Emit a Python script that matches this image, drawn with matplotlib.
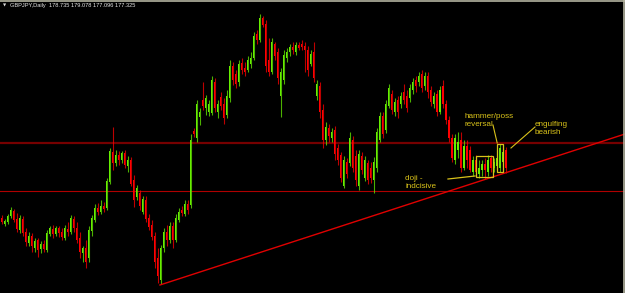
import numpy as np
import matplotlib
matplotlib.use("Agg")
import matplotlib.pyplot as plt
from matplotlib.lines import Line2D
from matplotlib.patches import Rectangle

# GBPJPY daily candles
opens = [172.3, 171.7, 171.9, 172.5, 173.0, 172.2, 171.1, 172.2, 170.9, 169.8,
         170.5, 169.3, 170.1, 169.2, 169.7, 169.1, 170.7, 171.2, 170.7, 171.3,
         170.9, 170.3, 171.2, 170.9, 172.2, 171.3, 170.3, 168.8, 169.3, 168.3,
         171.0, 172.1, 173.3, 172.9, 173.5, 173.3, 175.9, 178.9, 177.8, 178.6,
         178.1, 178.8, 177.5, 178.1, 176.1, 174.4, 174.8, 172.9, 174.1, 172.3,
         171.6, 170.5, 168.3, 166.1, 169.3, 170.9, 170.1, 171.5, 170.1, 172.1,
         173.1, 172.7, 173.7, 173.6, 181.0, 180.3, 182.4, 184.1, 183.3, 182.9,
         182.8, 185.9, 182.9, 184.4, 183.7, 182.6, 184.3, 187.5, 186.7, 185.9,
         187.8, 187.3, 187.1, 187.7, 188.3, 190.7, 190.1, 192.3, 191.7, 188.1,
         186.9, 189.7, 188.9, 184.5, 186.1, 188.3, 188.9, 189.4, 188.9, 189.6,
         189.7, 189.5, 189.1, 187.7, 188.9, 184.5, 185.5, 183.1, 180.1, 181.3,
         180.3, 181.1, 179.3, 178.6, 175.5, 177.9, 177.8, 180.1, 178.5, 175.5,
         178.5, 176.3, 177.8, 177.3, 176.1, 177.3, 180.1, 182.5, 181.1, 183.5,
         184.7, 182.9, 184.1, 183.7, 184.9, 184.5, 184.3, 185.1, 186.1, 185.9,
         186.7, 185.5, 186.5, 185.1, 183.7, 184.7, 182.9, 185.5, 183.7, 182.1,
         180.3, 178.1, 179.1, 180.1, 177.3, 179.5, 179.1, 176.9, 178.1, 176.7,
         177.1, 177.7, 176.9, 178.3, 177.3, 177.5, 177.3, 177.9, 179.1]
highs = [172.6, 172.2, 172.7, 173.4, 173.2, 172.8, 172.6, 172.5, 171.3, 170.9,
         170.8, 170.3, 170.3, 170.0, 170.1, 171.1, 171.5, 171.6, 171.5, 171.5,
         171.3, 171.6, 171.9, 172.6, 172.5, 171.9, 170.9, 169.5, 170.1, 171.5,
         172.6, 173.7, 173.8, 174.1, 173.9, 176.3, 179.3, 181.4, 179.1, 179.0,
         179.0, 179.1, 178.5, 178.4, 176.6, 175.6, 175.1, 174.5, 174.5, 172.7,
         172.1, 170.9, 169.3, 169.6, 171.3, 171.6, 171.9, 171.9, 172.7, 173.3,
         173.5, 174.1, 174.1, 180.7, 181.3, 184.1, 183.3, 185.9, 184.6, 184.1,
         186.5, 186.3, 184.1, 184.9, 184.3, 185.1, 188.1, 187.9, 187.1, 188.1,
         188.3, 187.9, 188.5, 188.9, 190.9, 191.1, 192.7, 192.5, 192.1, 190.3,
         190.3, 189.9, 189.3, 187.3, 189.1, 189.3, 189.7, 189.9, 189.9, 189.9,
         190.1, 189.9, 189.5, 189.1, 189.9, 186.1, 185.9, 183.7, 181.9, 181.7,
         181.3, 181.5, 179.7, 178.9, 178.5, 178.3, 180.9, 180.5, 179.1, 179.1,
         178.9, 178.5, 178.1, 177.9, 178.4, 181.3, 182.9, 182.9, 184.1, 185.7,
         185.1, 184.3, 184.5, 184.9, 185.7, 185.1, 185.7, 186.3, 186.5, 186.9,
         187.1, 186.9, 186.9, 185.5, 184.9, 185.1, 185.5, 186.1, 184.1, 182.5,
         180.7, 180.7, 180.9, 180.9, 180.1, 180.1, 179.5, 178.5, 178.6, 178.1,
         178.1, 178.3, 178.6, 178.6, 178.3, 179.1, 179.7, 179.3, 179.4]
lows = [171.7, 171.5, 171.7, 172.3, 171.9, 170.9, 170.8, 170.5, 169.5, 169.5,
        168.9, 168.9, 168.4, 168.8, 168.9, 168.9, 170.5, 170.3, 170.5, 170.4,
        170.1, 170.1, 170.5, 170.7, 170.9, 169.8, 168.3, 167.9, 167.3, 167.9,
        170.5, 171.9, 172.6, 172.7, 172.9, 173.1, 175.7, 177.1, 177.5, 177.6,
        177.8, 177.3, 176.9, 175.5, 173.4, 174.1, 173.1, 172.7, 171.9, 171.1,
        170.1, 167.3, 165.8, 165.7, 168.9, 169.5, 169.8, 169.3, 169.9, 171.9,
        172.5, 172.5, 172.7, 173.3, 180.4, 179.9, 181.6, 183.1, 182.6, 182.5,
        182.6, 182.9, 182.3, 183.1, 181.7, 182.3, 183.9, 185.6, 185.3, 185.5,
        186.7, 186.5, 186.9, 187.3, 188.1, 189.7, 189.9, 191.4, 186.9, 186.5,
        186.7, 188.1, 185.7, 182.4, 185.7, 187.9, 188.5, 188.7, 188.6, 189.1,
        189.1, 186.9, 186.5, 187.5, 185.9, 184.1, 182.3, 179.3, 179.6, 179.9,
        179.9, 178.1, 177.6, 175.9, 175.3, 176.3, 177.5, 176.9, 175.5, 175.1,
        176.7, 176.0, 175.7, 175.8, 174.8, 176.9, 179.9, 180.3, 180.8, 183.3,
        182.7, 182.5, 182.3, 183.3, 183.7, 182.9, 183.9, 184.7, 184.9, 185.5,
        184.9, 185.1, 184.3, 183.5, 183.3, 182.5, 182.7, 183.3, 181.7, 179.9,
        177.9, 177.7, 178.3, 176.9, 177.1, 177.3, 176.9, 176.5, 176.5, 176.3,
        176.5, 176.2, 176.5, 176.9, 176.9, 177.1, 176.9, 177.5, 176.8]
closes = [171.9, 172.0, 172.5, 173.1, 172.1, 171.2, 172.3, 170.8, 169.9, 170.5,
          169.5, 170.0, 169.1, 169.7, 169.2, 170.8, 171.3, 170.7, 171.3, 170.8,
          170.4, 171.3, 170.9, 172.3, 171.3, 170.1, 168.9, 169.3, 167.9, 171.1,
          172.3, 173.3, 172.9, 173.5, 173.2, 176.0, 179.0, 177.8, 178.6, 178.1,
          178.8, 177.6, 178.1, 175.7, 174.1, 175.3, 173.5, 174.2, 172.2, 171.4,
          170.4, 167.9, 166.5, 169.3, 170.9, 170.1, 171.5, 170.1, 172.3, 172.9,
          172.8, 173.7, 173.1, 180.1, 180.7, 183.7, 182.9, 183.5, 184.3, 183.7,
          186.1, 183.3, 183.7, 183.5, 182.3, 184.5, 187.5, 186.1, 185.7, 187.7,
          187.1, 186.9, 188.1, 188.3, 190.5, 190.1, 192.3, 191.6, 187.5, 186.9,
          189.9, 188.5, 186.3, 186.9, 188.6, 188.9, 189.4, 189.1, 189.6, 189.3,
          189.4, 189.1, 187.1, 188.7, 186.3, 185.7, 182.9, 180.1, 181.4, 180.5,
          180.9, 178.7, 178.1, 176.3, 178.1, 176.7, 180.3, 177.3, 176.1, 178.7,
          177.1, 178.1, 176.1, 176.3, 177.9, 180.9, 182.5, 180.7, 183.7, 185.3,
          183.1, 183.9, 182.9, 184.5, 184.1, 183.3, 185.3, 185.9, 185.5, 186.5,
          185.3, 186.5, 184.9, 183.9, 184.5, 182.9, 185.1, 183.7, 182.1, 180.3,
          178.3, 180.3, 179.9, 177.3, 179.5, 178.1, 177.1, 178.1, 176.9, 177.3,
          177.7, 177.1, 178.1, 177.3, 177.9, 178.3, 179.3, 178.9, 177.3]

# drawn levels / trendline (bar index, price)
levels = [179.75, 174.97]
trend_x = [52.8, 207.8]
trend_y = [165.6, 180.7]

title_text = "GBPJPY,Daily  178.735 179.078 177.096 177.325"

notes = [("hammer/poss\nreversal", 154.2, 182.8),
         ("engulfing\nbearish", 177.8, 182.0),
         ("doji -\nindcisive", 134.5, 176.6)]

o = np.array(opens)
h = np.array(highs)
l = np.array(lows)
c = np.array(closes)
x = np.arange(len(o))

bull = "#66ee00"
bear = "#ff0000"
note_col = "#d9c21a"

fig = plt.figure(figsize=(6.25, 2.93), dpi=100, facecolor="black")
ax = fig.add_axes([0, 0, 1, 1])
ax.set_facecolor("black")

# levels and trendline
ax.axhline(levels[0], color="#760000", lw=1.6, zorder=1)
ax.axhline(levels[1], color="#b00000", lw=0.8, zorder=1)
ax.plot(trend_x, trend_y, color="#e00000", lw=1.0, zorder=4)

# candles
cols = np.where(c <= o, bear, bull)
ax.vlines(x, l, h, colors=cols, lw=0.8, alpha=0.75, zorder=2)
body = np.where(np.abs(c - o) < 0.15, 0.15, c - o)
ax.bar(x, body, bottom=o, width=0.62, color=cols, edgecolor="none", zorder=3)

# annotations
for txt, tx, ty in notes:
    ax.text(tx, ty, txt, color=note_col, fontsize=5.9, family="Liberation Sans",
            va="top", ha="left", linespacing=1.3)
ax.plot([148.8, 157.8], [176.2, 176.5], color=note_col, lw=0.9, zorder=5)
ax.add_patch(Rectangle((158.3, 176.4), 5.4, 2.1, fill=False, ec=note_col, lw=0.9, zorder=5))
ax.add_patch(Rectangle((165.2, 176.9), 2.0, 2.8, fill=False, ec=note_col, lw=0.9, zorder=5))
ax.plot([163.8, 165.2], [181.6, 179.8], color=note_col, lw=0.8, zorder=5)
ax.plot([177.8, 169.8], [181.4, 179.3], color=note_col, lw=0.8, zorder=5)

ax.set_xlim(-0.5, 207.8)
ax.set_ylim(164.8, 194.1)
ax.set_xticks([])
ax.set_yticks([])
for s in ax.spines.values():
    s.set_visible(False)

# header and frame
fig.text(0.005, 0.982, "\u25BC", color="#dddddd", fontsize=3, va="center", ha="left")
fig.text(0.016, 0.982, title_text, color="#e8e8e8", fontsize=4.1,
         family="Liberation Sans", va="center", ha="left")
fig.add_artist(Line2D([0, 1], [0.998, 0.998], color="#b4b4a0", lw=1.2))
fig.add_artist(Line2D([0.9985, 0.9985], [0, 1], color="#b4b4a0", lw=1.2))

fig.savefig("out.png", dpi=100, facecolor="black")
